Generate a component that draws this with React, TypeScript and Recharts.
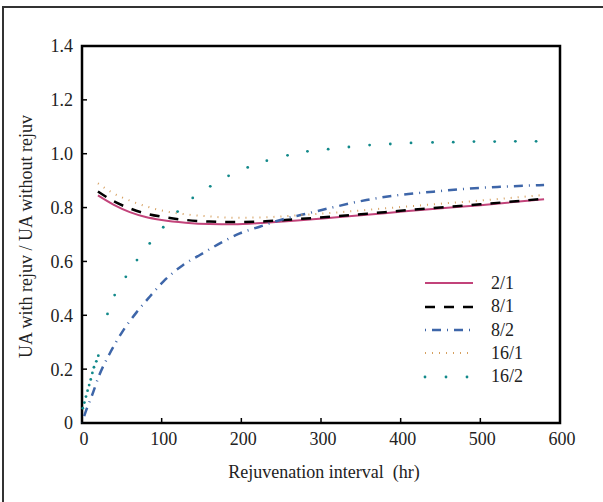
import {
  Legend,
  Line,
  LineChart,
  ReferenceArea,
  XAxis,
  YAxis
} from "recharts";

// hours shared by the 2/1, 8/1 and 16/1 curves
const hoursA = [20, 40, 60, 80, 100, 130, 160, 190, 230, 270, 320, 380, 440, 500, 580];
const ratio21 = [0.845, 0.81, 0.783, 0.765, 0.754, 0.744, 0.739, 0.738, 0.744, 0.752, 0.764, 0.779, 0.795, 0.809, 0.831];
const ratio81 = [0.86, 0.823, 0.797, 0.778, 0.766, 0.754, 0.748, 0.746, 0.749, 0.757, 0.768, 0.783, 0.798, 0.812, 0.833];
const ratio161 = [0.89, 0.852, 0.826, 0.805, 0.789, 0.775, 0.767, 0.762, 0.764, 0.771, 0.782, 0.797, 0.812, 0.826, 0.847];

const hours82 = [0, 5, 12, 22, 35, 52, 69, 85, 102, 127, 148, 173, 198, 223, 249, 280, 315, 357, 399, 441, 483, 525, 580];
const ratio82 = [0, 0.045, 0.098, 0.18, 0.259, 0.345, 0.413, 0.469, 0.525, 0.587, 0.624, 0.667, 0.704, 0.729, 0.754, 0.776, 0.801, 0.828, 0.847, 0.859, 0.87, 0.877, 0.884];

const hours162 = [1, 3, 5, 7, 9, 11, 13, 15, 18, 20.5, 32, 41, 55, 69, 85, 102, 120, 139, 161, 184, 208, 232, 258, 283, 309, 335, 361, 387, 413, 440, 466, 492, 518, 544, 570];
const ratio162 = [0.055, 0.076, 0.098, 0.12, 0.141, 0.162, 0.186, 0.207, 0.229, 0.25, 0.405, 0.475, 0.543, 0.605, 0.667, 0.727, 0.785, 0.836, 0.879, 0.918, 0.949, 0.974, 0.994, 1.009, 1.017, 1.025, 1.032, 1.036, 1.04, 1.042, 1.043, 1.045, 1.045, 1.046, 1.046];

const xTicks = [0, 100, 200, 300, 400, 500, 600];
const yTicks = [0, 0.2, 0.4, 0.6, 0.8, 1.0, 1.2, 1.4];

const FONT = '"Liberation Serif", "Times New Roman", serif';

const toPoints = (xs: number[], ys: number[]) => xs.map((x, i) => ({ x, y: ys[i] }));

type SeriesStyle = {
  name: string;
  color: string;
  width: number;
  dash?: string;
  dotsOnly?: boolean;
};

const series: (SeriesStyle & { data: { x: number; y: number }[] })[] = [
  { name: "2/1", color: "#c2437a", width: 2, data: toPoints(hoursA, ratio21) },
  { name: "8/1", color: "#000000", width: 2.5, dash: "10 9", data: toPoints(hoursA, ratio81) },
  { name: "8/2", color: "#3e66a9", width: 2.5, dash: "1 6 9 6", data: toPoints(hours82, ratio82) },
  { name: "16/1", color: "#d6a060", width: 2, dash: "1 6", data: toPoints(hoursA, ratio161) },
  { name: "16/2", color: "#12898a", width: 2, dotsOnly: true, data: toPoints(hours162, ratio162) }
];

const textStyle = { fontFamily: FONT, fontSize: 18 };

function YTick({ x, y, payload }: any) {
  const axisX = x + 9;
  const v = payload.value as number;
  return (
    <g>
      <line x1={axisX} x2={axisX + 5} y1={y} y2={y} stroke="#000" strokeWidth={1.5} />
      <text x={x} y={y} dy="0.36em" textAnchor="end" style={textStyle} fill="#222">
        {v === 0 ? "0" : v.toFixed(1)}
      </text>
    </g>
  );
}

function XTick({ x, y, payload }: any) {
  const axisY = y - 9;
  return (
    <g>
      <line x1={x} x2={x} y1={axisY} y2={axisY - 5} stroke="#000" strokeWidth={1.5} />
      <text x={x + 2} y={y} dy="0.71em" textAnchor="middle" style={textStyle} fill="#222">
        {payload.value}
      </text>
    </g>
  );
}

function LegendBox() {
  return (
    <div style={{ ...textStyle, color: "#222" }}>
      {series.map((s) => (
        <div key={s.name} style={{ display: "flex", alignItems: "center", height: 23.33 }}>
          <svg width={56} height={10} style={{ display: "block" }}>
            {s.dotsOnly ? (
              [10, 31, 52].map((cx) => <circle key={cx} cx={cx - 5} cy={5} r={1.4} fill={s.color} />)
            ) : (
              <line x1={5} x2={53} y1={5} y2={5} stroke={s.color} strokeWidth={s.width} strokeDasharray={s.dash} />
            )}
          </svg>
          <span style={{ marginLeft: 15, lineHeight: "23px" }}>{s.name}</span>
        </div>
      ))}
    </div>
  );
}

export default function App() {
  return (
    <div
      style={{
        position: "absolute",
        left: 0,
        top: 0,
        width: 603,
        height: 502,
        overflow: "hidden",
        background: "#fff",
        fontFamily: FONT
      }}
    >
      {/* outer figure frame: only left and top edges fall inside the picture */}
      <div
        style={{
          position: "absolute",
          left: 2,
          top: 6,
          width: 640,
          height: 540,
          borderLeft: "2px solid #333",
          borderTop: "2px solid #333",
          boxSizing: "border-box"
        }}
      />
      <LineChart width={603} height={502} margin={{ top: 46, right: 43, bottom: 49, left: 0 }}>
        <XAxis
          dataKey="x"
          type="number"
          domain={[0, 600]}
          ticks={xTicks}
          height={30}
          axisLine={false}
          tickLine={false}
          tickSize={0}
          tickMargin={9}
          tick={<XTick />}
          allowDuplicatedCategory={false}
          label={{
            value: "Rejuvenation interval  (hr)",
            content: ({ viewBox, value }: any) => (
              <text
                x={viewBox.x + viewBox.width / 2 + 3}
                y={472}
                dy="0.35em"
                textAnchor="middle"
                fill="#222"
                style={{ ...textStyle, whiteSpace: "pre" }}
              >
                {value}
              </text>
            )
          }}
        />
        <YAxis
          type="number"
          domain={[0, 1.4]}
          ticks={yTicks}
          width={82}
          axisLine={false}
          tickLine={false}
          tickSize={0}
          tickMargin={9}
          tick={<YTick />}
          label={{
            value: "UA with rejuv / UA without rejuv",
            content: ({ viewBox, value }: any) => {
              const cx = 26;
              const cy = viewBox.y + viewBox.height / 2 + 2;
              return (
                <text
                  x={cx}
                  y={cy}
                  dy="0.35em"
                  textAnchor="middle"
                  transform={`rotate(-90, ${cx}, ${cy})`}
                  fill="#222"
                  style={textStyle}
                >
                  {value}
                </text>
              );
            }
          }}
        />
        <ReferenceArea x1={0} x2={600} y1={0} y2={1.4} fill="none" stroke="#000" strokeWidth={2.5} ifOverflow="visible" />
        {series.map((s) =>
          s.dotsOnly ? (
            <Line
              key={s.name}
              data={s.data}
              dataKey="y"
              name={s.name}
              type="linear"
              stroke="none"
              dot={{ r: 1.4, fill: s.color, stroke: "none" }}
              isAnimationActive={false}
            />
          ) : (
            <Line
              key={s.name}
              data={s.data}
              dataKey="y"
              name={s.name}
              type="monotone"
              stroke={s.color}
              strokeWidth={s.width}
              strokeDasharray={s.dash}
              dot={false}
              isAnimationActive={false}
            />
          )
        )}
        <Legend
          layout="vertical"
          align="center"
          verticalAlign="middle"
          content={() => <LegendBox />}
          wrapperStyle={{ left: 420, top: 271.7, width: 130 }}
        />
      </LineChart>
    </div>
  );
}
